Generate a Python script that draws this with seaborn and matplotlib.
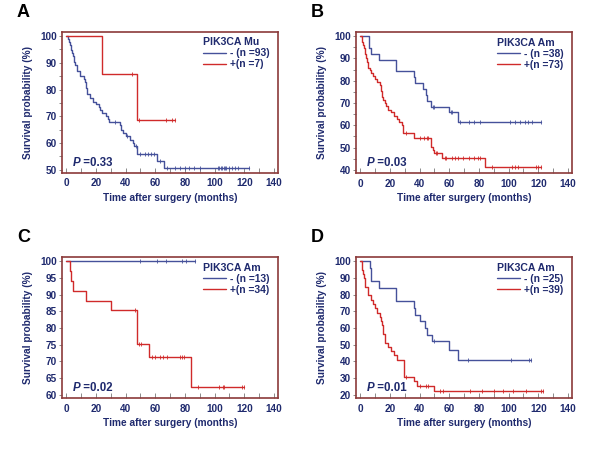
import numpy as np
import pandas as pd
import matplotlib
matplotlib.use("Agg")
import matplotlib.pyplot as plt
from matplotlib.ticker import MultipleLocator
import seaborn as sns

sns.set_theme(style="white")
plt.rcParams["font.family"] = ["Liberation Sans", "DejaVu Sans"]
plt.rcParams["font.weight"] = "bold"

NAVY = "#1f2a6e"
BLUE = "#45519a"
RED = "#d02a2a"
FRAME = "#8b3a3a"

# Panel A - PIK3CA Mu
a_neg_t = [0, 1.5, 2, 2.5, 3, 3.5, 4, 4.5, 5, 5.5, 6, 7, 7.5, 9, 12, 12.5, 13, 14, 16, 18, 20, 22, 23, 24,
           27, 28, 29, 36, 37, 38, 40, 43, 45, 46, 48, 61, 66, 123]
a_neg_s = [100, 98.9, 97.8, 96.8, 95.7, 94.6, 93.5, 92.5, 91.4, 90.3, 89.2, 88.2, 87.1, 84.9, 83.9, 82.8,
           80.6, 78.5, 76.8, 75.5, 74.5, 73.4, 72.3, 71.2, 70.1, 69.0, 67.8, 66.6, 65.0, 63.8, 62.5, 61.3,
           60.0, 58.8, 56.0, 53.4, 50.8, 50.8]
a_neg_cens = [33, 41, 47, 50, 53, 55, 57, 59, 63, 68, 73, 77, 80, 83, 86, 90, 102, 103, 104, 105, 106,
              107, 108, 110, 112, 114, 116, 123]
a_pos_t = [0, 24, 48, 73]
a_pos_s = [100, 85.7, 68.6, 68.6]
a_pos_cens = [44, 49, 67, 71, 73]

# Panel B - PIK3CA Am
b_neg_t = [0, 6, 7, 12.5, 24, 36, 37, 42, 44, 45, 48, 60, 66, 121.5]
b_neg_s = [100, 94.7, 92.1, 89.5, 84.2, 81.6, 78.9, 76.3, 73.7, 71.1, 68.4, 65.8, 61.7, 61.7]
b_neg_cens = [49, 50, 61, 62, 67, 73, 77, 81, 101, 104, 107.5, 111, 113, 115.5, 121.5]
b_pos_t = [0, 1, 1.5, 2, 2.5, 3, 3.5, 4, 4.5, 5, 5.5, 6.5, 7.5, 8.5, 10, 11, 13.5, 14, 14.5, 15.5, 16.5,
           17.5, 19, 21, 23, 24.5, 26, 28, 29, 36.5, 48, 49, 50, 55, 84, 122]
b_pos_s = [100, 98.6, 97.3, 95.9, 94.5, 93.2, 91.8, 90.4, 88.5, 87.1, 85.8, 84.9, 83.6, 82.2, 80.8, 79.5,
           78.1, 75.3, 72.6, 71.2, 69.9, 68.5, 67.1, 65.8, 64.4, 63.0, 61.6, 60.3, 56.4, 54.2, 50.2, 48.9,
           47.5, 45.2, 41.5, 41.5]
b_pos_cens = [31, 40, 43, 45, 46, 51, 52, 57, 58, 62, 64, 66, 69.5, 73, 77, 79.5, 80.5, 88.5, 102, 104,
              106.5, 118.5, 120, 122]

# Panel C - PIK3CA Am
c_neg_t = [0, 87]
c_neg_s = [100, 100]
c_neg_cens = [50, 61, 67, 78, 81, 87]
c_pos_t = [0, 2.5, 3.5, 4.5, 13.5, 30, 48, 56, 84, 120]
c_pos_s = [100, 97.1, 94.1, 91.2, 88.2, 85.3, 75.3, 71.4, 62.5, 62.5]
c_pos_cens = [46.5, 49, 50.5, 58, 60, 63, 65.5, 68, 76.5, 78, 79.5, 89, 103, 105.5, 106.5, 118.5, 120]

# Panel D - PIK3CA Am
d_neg_t = [0, 6.5, 7, 7.5, 12.5, 24, 36, 37, 40, 43.5, 45, 48.5, 60, 66, 115]
d_neg_s = [100, 96, 92, 88, 84, 76, 72, 68, 64, 60, 56, 52, 46.8, 40.9, 40.9]
d_neg_cens = [50, 72.5, 101.5, 114, 115]
d_pos_t = [0, 1, 1.5, 2, 2.5, 3, 3.5, 5, 5.5, 7, 8.5, 10, 11.5, 13.5, 14, 14.5, 15, 15.5, 16.5, 17, 19,
           21, 23, 25, 29.5, 36.5, 38, 50, 123]
d_pos_s = [100, 97.4, 94.9, 92.3, 89.7, 87.2, 84.6, 82.1, 79.5, 76.9, 74.4, 71.8, 69.2, 66.7, 64.1, 61.5,
           59.0, 56.4, 53.8, 51.3, 48.7, 46.2, 43.6, 41.0, 30.8, 28.2, 25.6, 22.4, 22.4]
d_pos_cens = [31, 40, 44, 46, 54, 56, 74, 82, 90, 96, 103, 112, 121.5, 123]

panels = [
    ("A", "PIK3CA Mu", ["- (n =93)", "+(n =7)"], "=0.33",
     (a_neg_t, a_neg_s, a_neg_cens), (a_pos_t, a_pos_s, a_pos_cens), (48.9, 101.5), 10, 5),
    ("B", "PIK3CA Am", ["- (n =38)", "+(n =73)"], "=0.03",
     (b_neg_t, b_neg_s, b_neg_cens), (b_pos_t, b_pos_s, b_pos_cens), (38.5, 101.7), 10, 5),
    ("C", "PIK3CA Am", ["- (n =13)", "+(n =34)"], "=0.02",
     (c_neg_t, c_neg_s, c_neg_cens), (c_pos_t, c_pos_s, c_pos_cens), (59.0, 101.1), 5, None),
    ("D", "PIK3CA Am", ["- (n =25)", "+(n =39)"], "=0.01",
     (d_neg_t, d_neg_s, d_neg_cens), (d_pos_t, d_pos_s, d_pos_cens), (18.0, 102.2), 10, None),
]

# axes boxes in figure fraction [left, bottom, width, height]
boxes = [[0.103, 0.616, 0.361, 0.313], [0.593, 0.615, 0.361, 0.313],
         [0.103, 0.115, 0.361, 0.313], [0.593, 0.115, 0.361, 0.313]]

fig = plt.figure(figsize=(6, 4.5), dpi=100)


def draw_curve(ax, curve, color, label):
    t, s, cens = curve
    df = pd.DataFrame({"t": t, "s": s})
    sns.lineplot(data=df, x="t", y="s", drawstyle="steps-post", color=color, lw=1.0,
                 sort=False, estimator=None, label=label, ax=ax)
    idx = np.searchsorted(np.array(t), np.array(cens), side="right") - 1
    cy = np.array(s)[idx]
    ax.plot(cens, cy, ls="none", marker="|", ms=3.2, mew=0.6, color=color)


for (letter, title, labels, pval, neg, pos, ylim, ystep, yminor), box in zip(panels, boxes):
    ax = fig.add_axes(box)
    draw_curve(ax, neg, BLUE, labels[0])
    draw_curve(ax, pos, RED, labels[1])

    ax.set_xlim(-3, 143)
    ax.set_ylim(*ylim)
    ax.xaxis.set_major_locator(MultipleLocator(20))
    ax.xaxis.set_minor_locator(MultipleLocator(10))
    ax.yaxis.set_major_locator(MultipleLocator(ystep))
    if yminor:
        ax.yaxis.set_minor_locator(MultipleLocator(yminor))
    ax.tick_params(axis="x", which="both", direction="in", length=3.5, width=0.7, color="#8a8a8a",
                   labelsize=7.2, labelcolor=NAVY, pad=4, bottom=True)
    ax.tick_params(axis="y", which="both", direction="out", length=2.2, width=0.7, color="#8a8a8a",
                   labelsize=7.2, labelcolor=NAVY, pad=1.5, left=True)
    for lab in ax.get_xticklabels() + ax.get_yticklabels():
        lab.set_fontweight("bold")
    for sp in ax.spines.values():
        sp.set_color(FRAME)
        sp.set_linewidth(1.2)

    ax.set_xlabel("Time after surgery (months)", fontsize=7.3, fontweight="bold", color=NAVY, labelpad=3)
    ax.set_ylabel("Survival probability (%)", fontsize=7.3, fontweight="bold", color=NAVY, labelpad=5)

    leg = ax.legend(title=title, loc="upper left", bbox_to_anchor=(0.63, 1.0), frameon=False,
                    fontsize=7.4, title_fontsize=7.6, handlelength=2.2, handletextpad=0.4,
                    labelspacing=0.1, borderaxespad=0.3, borderpad=0.2, alignment="left")
    leg.get_title().set_fontweight("bold")
    leg.get_title().set_color(NAVY)
    for txt in leg.get_texts():
        txt.set_fontweight("bold")
        txt.set_color(NAVY)

    ptxt = ax.text(0.05, 0.05, "P", transform=ax.transAxes, fontsize=8.3, fontweight="bold",
                   style="italic", color=NAVY, va="baseline")
    ax.annotate(" " + pval, xy=(1, 0), xycoords=ptxt, fontsize=8.3, fontweight="bold",
                color=NAVY, va="bottom")

    fig.text(box[0] - 0.075, box[1] + box[3] + 0.025, letter, fontsize=13, fontweight="bold",
             color="black", va="bottom")

fig.savefig("out.png", dpi=100, facecolor="white")
